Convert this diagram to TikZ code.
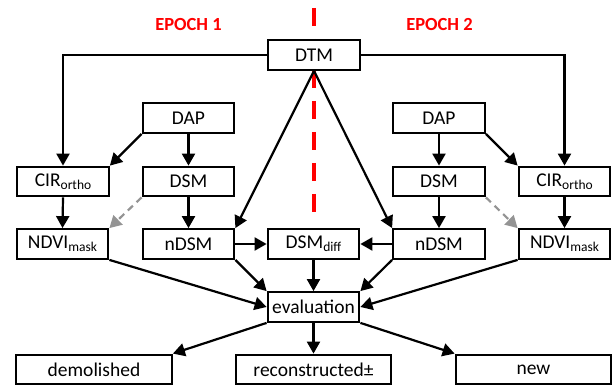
\documentclass[tikz,border=0pt]{standalone}
\usepackage{fontspec}
\setmainfont{Carlito}
\usetikzlibrary{arrows.meta}
\newcommand{\lowsub}[1]{\raisebox{-0.3ex}{\fontsize{13.5}{14}\selectfont #1}}
\tikzset{
  box/.style={draw=black, line width=2.3pt, fill=white, minimum height=29.5pt,
    minimum width=91.5pt, inner sep=0pt, font=\fontsize{19.5}{22}\selectfont},
  wide/.style={box, minimum width=155.5pt},
  link/.style={line width=2.2pt, -{Triangle[length=12pt,width=13pt]}},
  weak/.style={link, draw=black!42, dash pattern=on 7pt off 5pt,
    -{Triangle[length=12pt,width=13pt,fill=black!42]}},
  epoch/.style={text=red, font=\bfseries\fontsize{18.5}{22}\selectfont},
  divider/.style={draw=red, line width=4pt, dash pattern=on 18pt off 13pt}
}
\begin{document}
\begin{tikzpicture}[x=1pt, y=-1pt]
\useasboundingbox (0,0) rectangle (613,387);

% dividing line between the two epochs
\coordinate (divtop) at (313.5,8);
\coordinate (divbot) at (313.5,212);
\draw[divider] (divtop) -- (divbot);

\node[epoch] (ep1) at (188.5,25) {EPOCH 1};
\node[epoch] (ep2) at (439.5,25) {EPOCH 2};

% shared terrain model
\node[box] (dtm) at (314,55) {DTM};

% epoch 1
\node[box] (dap1) at (188.5,118) {DAP};
\node[box] (cir1) at (63,181.5) {CIR\lowsub{ortho}};
\node[box] (dsm1) at (188.5,181.5) {DSM};
\node[box] (ndvi1) at (62.5,244) {NDVI\lowsub{mask}};
\node[box] (ndsm1) at (188.5,244) {nDSM};

% epoch 2
\node[box] (dap2) at (439,118) {DAP};
\node[box] (cir2) at (564.5,181.5) {CIR\lowsub{ortho}};
\node[box] (dsm2) at (439,181.5) {DSM};
\node[box] (ndvi2) at (564.5,244) {NDVI\lowsub{mask}};
\node[box] (ndsm2) at (439,244) {nDSM};

% comparison and results
\node[box] (diff) at (313.5,244) {DSM\lowsub{diff}};
\node[box] (eval) at (313.5,307) {evaluation};
\node[wide] (demo) at (94,369.5) {demolished};
\node[wide] (recon) at (313.5,369.5) {reconstructed±};
\node[wide] (new) at (533.5,369.5) {new};

% connectors
\draw[link] (dtm.west) -| (cir1.north);
\draw[link] (dtm.east) -| (cir2.north);
\draw[link] (dtm.south) -- (ndsm1.north east);
\draw[link] (dtm.south) -- (ndsm2.north west);

\draw[link] (dap1.south) -- (dsm1.north);
\draw[link] (dap1.south west) -- (cir1.north east);
\draw[link] (dap2.south) -- (dsm2.north);
\draw[link] (dap2.south east) -- (cir2.north west);

\draw[link] (cir1.south) -- (ndvi1.north);
\draw[link] (cir2.south) -- (ndvi2.north);
\draw[link] (dsm1.south) -- (ndsm1.north);
\draw[link] (dsm2.south) -- (ndsm2.north);
\draw[weak] (dsm1.south west) -- (ndvi1.north east);
\draw[weak] (dsm2.south east) -- (ndvi2.north west);

\draw[link] (ndsm1.east) -- (diff.west);
\draw[link] (ndsm2.west) -- (diff.east);
\draw[link] (diff.south) -- (eval.north);
\draw[link] (ndsm1.south east) -- (eval.north west);
\draw[link] (ndsm2.south west) -- (eval.north east);
\draw[link] (ndvi1.south east) -- (eval.west);
\draw[link] (ndvi2.south west) -- (eval.east);

\draw[link] (eval.south west) -- (demo.north east);
\draw[link] (eval.south) -- (recon.north);
\draw[link] (eval.south east) -- (new.north west);
\end{tikzpicture}
\end{document}
